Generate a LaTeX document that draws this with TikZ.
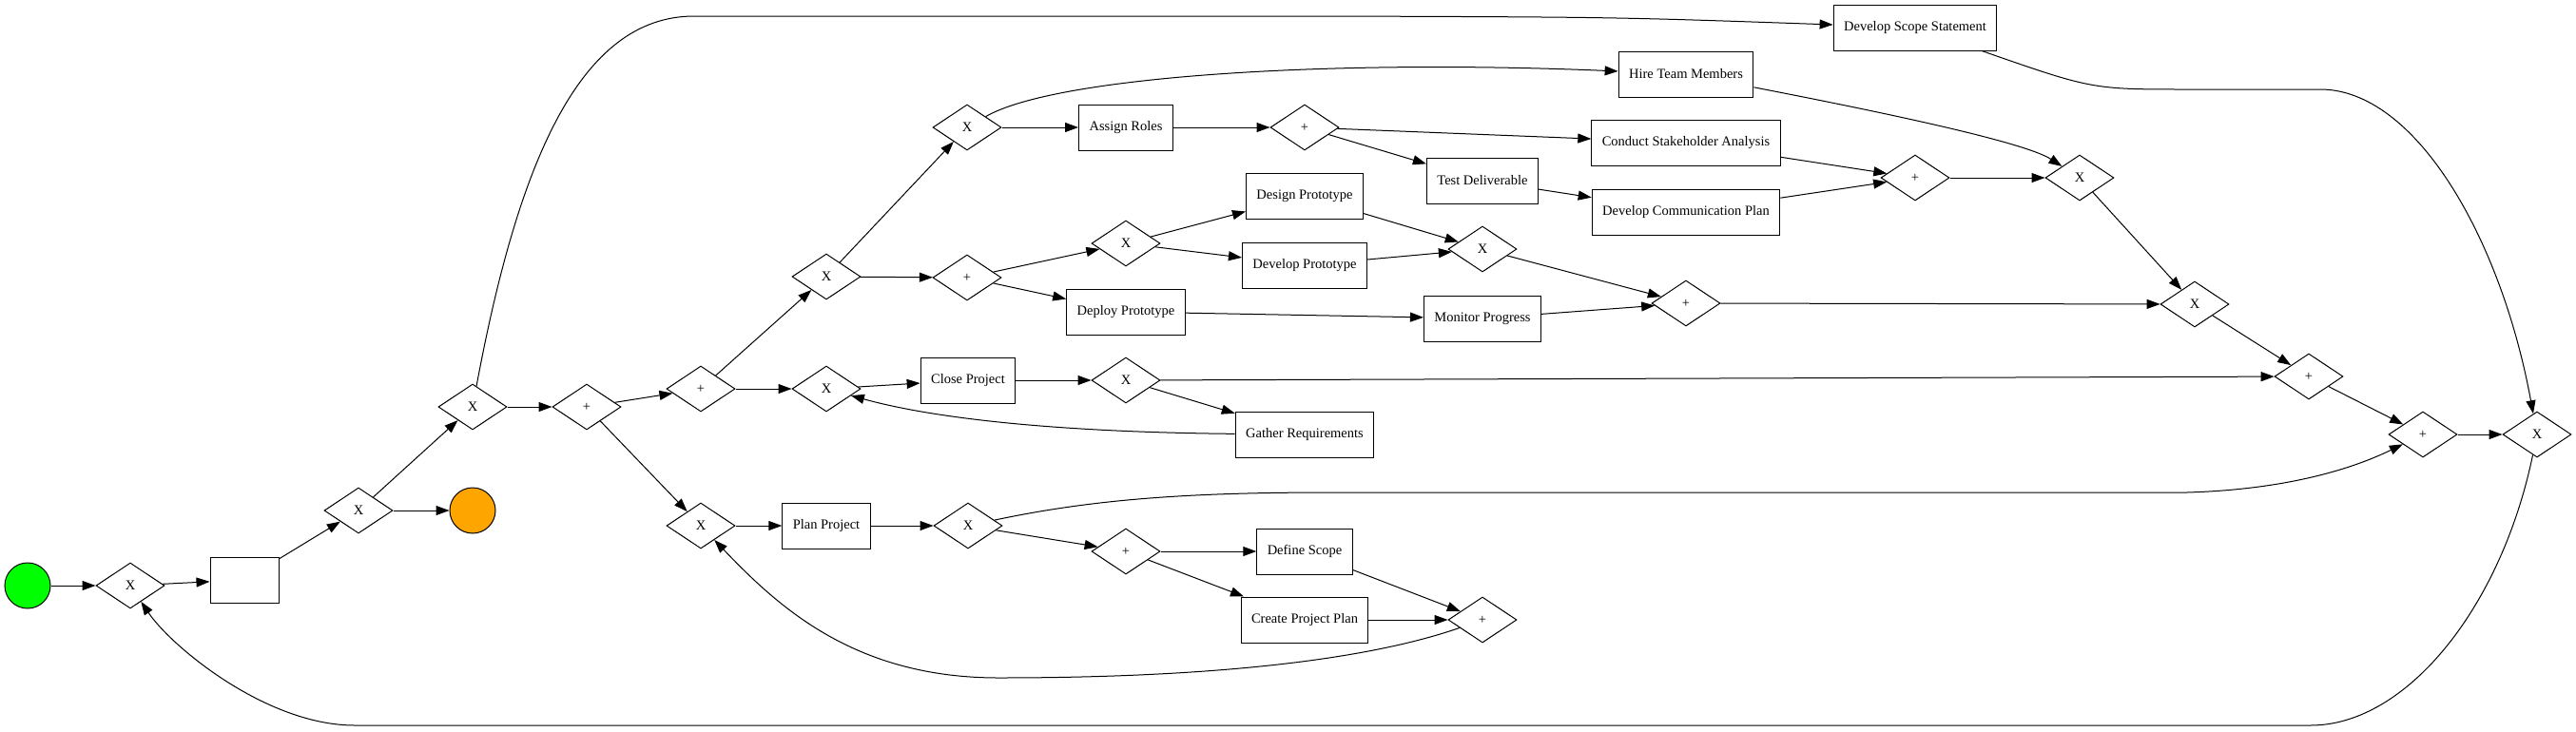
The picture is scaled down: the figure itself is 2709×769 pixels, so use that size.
\documentclass[tikz,border=0pt]{standalone}
\usepackage{fontspec}
\setmainfont{Liberation Serif}
\usetikzlibrary{shapes.geometric, arrows.meta}

\definecolor{startGreen}{RGB}{0,255,0}
\definecolor{endOrange}{RGB}{255,165,0}

\begin{document}
\begin{tikzpicture}[x=1pt, y=-1pt, font=\fontsize{14.5}{17}\selectfont]

        % Define styles for each type of node
        \tikzstyle{task} = [rectangle, minimum height=48pt, inner xsep=11pt, text centered, draw=black, line width=1pt]
        \tikzstyle{gateway} = [diamond, minimum width=72pt, minimum height=48pt, inner sep=0pt, draw=black, line width=1pt]
        \tikzstyle{startevent} = [circle, minimum size=48pt, inner sep=0pt, draw=black, line width=1pt, fill=startGreen]
        \tikzstyle{endevent} = [circle, minimum size=48pt, inner sep=0pt, draw=black, line width=1pt, fill=endOrange]

        % Define arrow style
        \tikzstyle{arrow} = [line width=1pt, ->, >={Triangle[length=14pt, width=10pt]}]

        \useasboundingbox (0,0) rectangle (2709,769);

        % Nodes
        \node (start) [startevent] at (29,616) {};
        \node (xorLoop) [gateway] at (137,616) {X};
        \node (emptyTask) [task, minimum width=72pt] at (257,610) {};
        \node (xorExit) [gateway] at (377,537) {X};
        \node (finish) [endevent] at (497,537) {};
        \node (xorScope) [gateway] at (497,428) {X};
        \node (andMain) [gateway] at (617,428) {+};
        \node (andSplit) [gateway] at (737,409) {+};
        \node (xorPlan) [gateway] at (737,553) {X};

        % Upper branch
        \node (xorTeam) [gateway] at (869,291) {X};
        \node (xorHire) [gateway] at (1017,134) {X};
        \node (assignRoles) [task] at (1184,134) {Assign Roles};
        \node (andRoles) [gateway] at (1372,134) {+};
        \node (hireTeam) [task] at (1773,78) {Hire Team Members};
        \node (scopeStmt) [task] at (2014,29) {Develop Scope Statement};
        \node (stakeholder) [task] at (1773,150) {Conduct Stakeholder Analysis};
        \node (testDeliv) [task] at (1559,190) {Test Deliverable};
        \node (commPlan) [task] at (1773,223) {Develop Communication Plan};
        \node (andComm) [gateway] at (2014,187) {+};
        \node (xorTeamJoin) [gateway] at (2187,187) {X};

        % Prototype branch
        \node (andProto) [gateway] at (1017,292) {+};
        \node (xorProto) [gateway] at (1184,256) {X};
        \node (designProto) [task] at (1372,206) {Design Prototype};
        \node (developProto) [task] at (1372,279) {Develop Prototype};
        \node (deployProto) [task] at (1184,328) {Deploy Prototype};
        \node (xorProtoJoin) [gateway] at (1559,262) {X};
        \node (monitor) [task] at (1559,335) {Monitor Progress};
        \node (andMonitor) [gateway] at (1773,319) {+};
        \node (xorMid) [gateway] at (2308,320) {X};

        % Closing branch
        \node (xorClose) [gateway] at (869,409) {X};
        \node (closeProject) [task] at (1018,400) {Close Project};
        \node (xorGather) [gateway] at (1184,400) {X};
        \node (gatherReq) [task] at (1372,457) {Gather Requirements};
        \node (andUpper) [gateway] at (2428,396) {+};

        % Planning branch
        \node (planProject) [task] at (869,553) {Plan Project};
        \node (xorDefine) [gateway] at (1018,553) {X};
        \node (andDefine) [gateway] at (1184,580) {+};
        \node (defineScope) [task] at (1372,580) {Define Scope};
        \node (createPlan) [task] at (1372,652) {Create Project Plan};
        \node (andPlanJoin) [gateway] at (1559,652) {+};

        % Final joins
        \node (andFinal) [gateway] at (2548,457) {+};
        \node (xorFinal) [gateway] at (2668,457) {X};

        % Arrows
        \draw [arrow] (start) -- (xorLoop);
        \draw [arrow] (xorLoop) -- (emptyTask);
        \draw [arrow] (emptyTask) -- (xorExit);
        \draw [arrow] (xorExit) -- (finish);
        \draw [arrow] (xorExit) -- (xorScope);
        \draw [arrow] (xorScope) -- (andMain);
        \draw [arrow] (xorScope) .. controls (545,170) and (610,17) .. (730,17) -- (1400,17) .. controls (1700,18) .. (scopeStmt);
        \draw [arrow] (andMain) -- (andSplit);
        \draw [arrow] (andMain) -- (xorPlan);
        \draw [arrow] (andSplit) -- (xorTeam);
        \draw [arrow] (andSplit) -- (xorClose);

        % Upper branch
        \draw [arrow] (xorTeam) -- (xorHire);
        \draw [arrow] (xorTeam) -- (andProto);
        \draw [arrow] (xorHire) -- (assignRoles);
        \draw [arrow] (xorHire) .. controls (1110,80) and (1400,62) .. (hireTeam);
        \draw [arrow] (assignRoles) -- (andRoles);
        \draw [arrow] (andRoles) -- (stakeholder);
        \draw [arrow] (andRoles) -- (testDeliv);
        \draw [arrow] (testDeliv) -- (commPlan);
        \draw [arrow] (stakeholder) -- (andComm);
        \draw [arrow] (commPlan) -- (andComm);
        \draw [arrow] (andComm) -- (xorTeamJoin);
        \draw [arrow] (hireTeam) .. controls (1990,120) and (2130,150) .. (xorTeamJoin);
        \draw [arrow] (xorTeamJoin) -- (xorMid);
        \draw [arrow] (scopeStmt) .. controls (2200,94) .. (2300,94) -- (2440,94) .. controls (2540,94) and (2630,250) .. (xorFinal);

        % Prototype branch
        \draw [arrow] (andProto) -- (xorProto);
        \draw [arrow] (andProto) -- (deployProto);
        \draw [arrow] (xorProto) -- (designProto);
        \draw [arrow] (xorProto) -- (developProto);
        \draw [arrow] (designProto) -- (xorProtoJoin);
        \draw [arrow] (developProto) -- (xorProtoJoin);
        \draw [arrow] (deployProto) -- (monitor);
        \draw [arrow] (xorProtoJoin) -- (andMonitor);
        \draw [arrow] (monitor) -- (andMonitor);
        \draw [arrow] (andMonitor) -- (xorMid);
        \draw [arrow] (xorMid) -- (andUpper);

        % Closing branch
        \draw [arrow] (xorClose) -- (closeProject);
        \draw [arrow] (closeProject) -- (xorGather);
        \draw [arrow] (xorGather) -- (andUpper);
        \draw [arrow] (xorGather) -- (gatherReq);
        \draw [arrow] (gatherReq) .. controls (1150,455) and (1000,445) .. (xorClose);
        \draw [arrow] (andUpper) -- (andFinal);

        % Planning branch
        \draw [arrow] (xorPlan) -- (planProject);
        \draw [arrow] (planProject) -- (xorDefine);
        \draw [arrow] (xorDefine) -- (andDefine);
        \draw [arrow] (xorDefine) .. controls (1150,525) and (1250,518) .. (1400,518) -- (2300,518) .. controls (2400,515) and (2470,495) .. (andFinal);
        \draw [arrow] (andDefine) -- (defineScope);
        \draw [arrow] (andDefine) -- (createPlan);
        \draw [arrow] (defineScope) -- (andPlanJoin);
        \draw [arrow] (createPlan) -- (andPlanJoin);
        \draw [arrow] (andPlanJoin) .. controls (1450,690) and (1300,713) .. (1050,713) .. controls (900,713) and (820,640) .. (xorPlan);

        % Final joins and loop back
        \draw [arrow] (andFinal) -- (xorFinal);
        \draw [arrow] (xorFinal) .. controls (2630,640) and (2530,763) .. (2430,763) -- (373,763) .. controls (280,763) and (180,680) .. (xorLoop);

    \end{tikzpicture}
\end{document}
